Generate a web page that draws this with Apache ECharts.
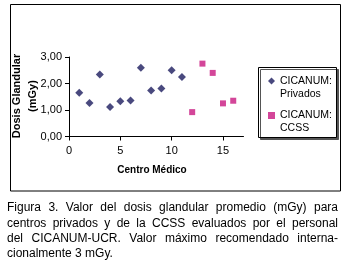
<!DOCTYPE html>
<html>
<head>
<meta charset="utf-8">
<script src="https://cdn.jsdelivr.net/npm/echarts@6/dist/echarts.min.js"></script>
<style>
  html, body { margin: 0; padding: 0; background: #fff; }
  #chart { width: 350px; height: 264px; }
</style>
</head>
<body>
<div id="chart"></div>
<script>
// datos
var centrosPrivados = [1, 2, 3, 4, 5, 6, 7, 8, 9, 10, 11];
var dosisPrivados = [1.65, 1.26, 2.34, 1.11, 1.33, 1.36, 2.59, 1.74, 1.81, 2.50, 2.25];
var centrosCCSS = [12, 13, 14, 15, 16];
var dosisCCSS = [0.92, 2.75, 2.40, 1.25, 1.35];
var xTicks = [0, 5, 10, 15];
var yTicks = [0, 1, 2, 3];
var serieNames = ['CICANUM:\nPrivados', 'CICANUM:\nCCSS'];
var captionLines = [
  'Figura 3. Valor del dosis glandular promedio (mGy) para',
  'centros privados y de la CCSS evaluados por el personal',
  'del CICANUM-UCR. Valor máximo recomendado interna-',
  'cionalmente 3 mGy.'
];

var arial = '"Liberation Sans", Arial, sans-serif';

function pares(xs, ys) {
  var out = [];
  for (var i = 0; i < xs.length; i++) {
    out.push([xs[i], ys[i]]);
  }
  return out;
}

/**
 * texto justificado del pie de figura (palabra por palabra)
 */
function captionGraphics() {
  var ctx = document.createElement('canvas').getContext('2d');
  var font = '12px ' + arial;
  ctx.font = font;
  var left = 7, right = 338;
  var ys = [208, 223.5, 239, 254];
  var items = [];
  for (var i = 0; i < captionLines.length; i++) {
    var words = captionLines[i].split(' ');
    var last = (i == captionLines.length - 1);
    var total = 0;
    for (var j = 0; j < words.length; j++) total += ctx.measureText(words[j]).width;
    var gap = last ? ctx.measureText(' ').width : (right - left - total) / (words.length - 1);
    var x = left;
    for (var j = 0; j < words.length; j++) {
      items.push({
        type: 'text', x: x, y: ys[i],
        style: { text: words[j], font: font, fill: '#000', textVerticalAlign: 'middle' }
      });
      x += ctx.measureText(words[j]).width + gap;
    }
  }
  return items;
}

/**
 * leyenda de una sola entrada (linea en blanco arriba para que el
 * simbolo quede a la altura de la primera linea)
 */
function legendFor(name, icon, top) {
  return {
    orient: 'vertical',
    left: 268, top: top,
    padding: 0,
    itemWidth: 7, itemHeight: 7,
    textStyle: { fontSize: 10.5, fontFamily: arial, color: '#000', lineHeight: 13 },
    formatter: function (n) { return '\n' + n; },
    data: [{ name: name, icon: icon }]
  };
}

var myChart = echarts.init(document.getElementById('chart'), null, { renderer: 'canvas' });

var option = {
  animation: false,
  backgroundColor: '#fff',
  grid: { left: 69, top: 57, width: 174.5, height: 79.5 },
  xAxis: {
    type: 'value', min: 0, max: 17, interval: 5,
    axisLine: { lineStyle: { color: '#000', width: 1 } },
    axisTick: { length: 4, lineStyle: { color: '#000' }, customValues: xTicks },
    axisLabel: { customValues: xTicks, color: '#000', fontSize: 11, fontFamily: arial, margin: 9 },
    splitLine: { show: false }
  },
  yAxis: {
    type: 'value', min: 0, max: 3, interval: 1,
    axisLine: { show: true, lineStyle: { color: '#000', width: 1 } },
    axisTick: { show: true, length: 4, lineStyle: { color: '#000' }, customValues: yTicks },
    axisLabel: {
      customValues: yTicks, color: '#000', fontSize: 11, fontFamily: arial, margin: 7,
      formatter: function (v) { return v.toFixed(2).replace('.', ','); }
    },
    splitLine: { show: false }
  },
  legend: [
    legendFor(serieNames[0], 'diamond', 61.5),
    legendFor(serieNames[1], 'rect', 96)
  ],
  series: [
    {
      name: serieNames[0], type: 'scatter', symbol: 'diamond', symbolSize: 8,
      itemStyle: { color: '#1c1c5e' },
      data: pares(centrosPrivados, dosisPrivados)
    },
    {
      name: serieNames[1], type: 'scatter', symbol: 'rect', symbolSize: 6,
      itemStyle: { color: '#c8187f' },
      data: pares(centrosCCSS, dosisCCSS)
    }
  ],
  graphic: [
    {
      type: 'rect', shape: { x: 10.5, y: 4.5, width: 330, height: 186.5 },
      style: { fill: 'none', stroke: '#000', lineWidth: 1 }, z: 0
    },
    {
      type: 'rect', shape: { x: 258.5, y: 67.5, width: 78, height: 70 },
      style: {
        fill: '#fff', stroke: '#000', lineWidth: 1,
        shadowColor: '#555', shadowOffsetX: 2, shadowOffsetY: 2, shadowBlur: 0
      }, z: -1
    },
    {
      type: 'text', x: 17, y: 96, rotation: Math.PI / 2,
      style: { text: 'Dosis Glandular', font: 'bold 11px ' + arial, fill: '#000', textAlign: 'center', textVerticalAlign: 'middle' }
    },
    {
      type: 'text', x: 33, y: 96, rotation: Math.PI / 2,
      style: { text: '(mGy)', font: 'bold 11px ' + arial, fill: '#000', textAlign: 'center', textVerticalAlign: 'middle' }
    },
    {
      type: 'text', x: 152, y: 170,
      style: { text: 'Centro Médico', font: 'bold 10px ' + arial, fill: '#000', textAlign: 'center', textVerticalAlign: 'middle' }
    }
  ].concat(captionGraphics())
};

if (option && typeof option === "object") {
  myChart.setOption(option, true);
}
</script>
</body>
</html>
